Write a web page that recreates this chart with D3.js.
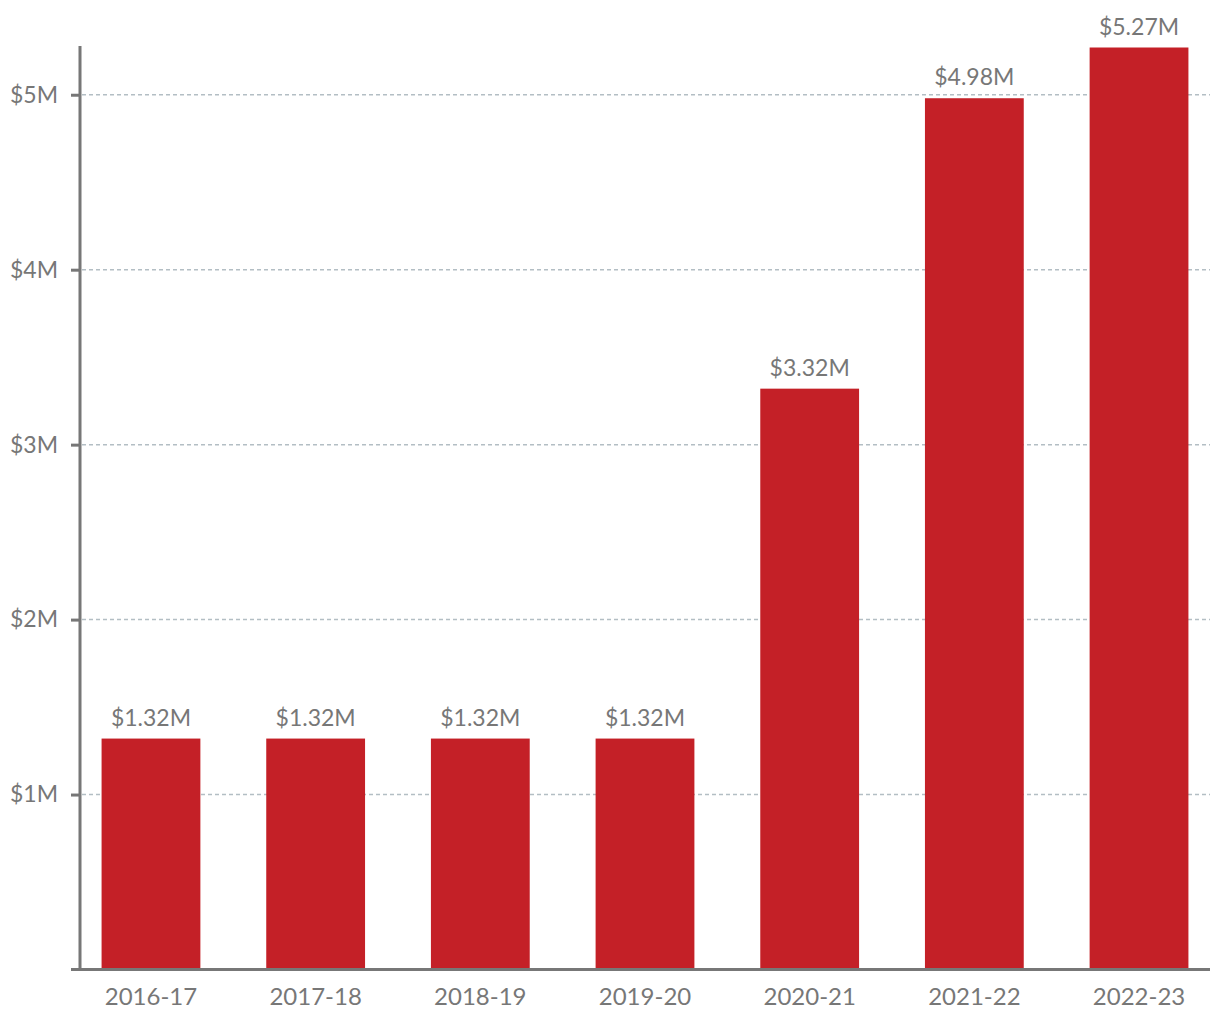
<!DOCTYPE html>
<html>
<head>
<meta charset="utf-8">
<script src="https://cdn.jsdelivr.net/npm/d3@7"></script>
<style>
  html, body { margin: 0; padding: 0; background: #fff; }
  text { font-family: Lato, "Noto Sans", sans-serif; fill: #777; }
</style>
</head>
<body>
<svg id="chart" width="1220" height="1020"></svg>
<script>
const categories = ["2016-17", "2017-18", "2018-19", "2019-20", "2020-21", "2021-22", "2022-23"];
const values = [1.32, 1.32, 1.32, 1.32, 3.32, 4.98, 5.27];
const yTicks = [1, 2, 3, 4, 5];
const valueLabels = ["$1.32M", "$1.32M", "$1.32M", "$1.32M", "$3.32M", "$4.98M", "$5.27M"];

(function () {
const svg = d3.select("#chart");
const mLeft = 80, mRight = 1210, mTop = 47.5, mBottom = 969.5;

const x = d3.scaleBand().domain(categories).range([mLeft, mRight])
  .paddingInner(0.4).paddingOuter(0.131);
const y = d3.scaleLinear().domain([0, d3.max(values)]).range([mBottom, mTop]);

// gridlines
svg.append("g").selectAll("line").data(yTicks).join("line")
  .attr("x1", mLeft + 2).attr("x2", mRight)
  .attr("y1", d => y(d)).attr("y2", d => y(d))
  .attr("stroke", "#b3bec4").attr("stroke-width", 1.5)
  .attr("stroke-dasharray", "4,3");

// bars
svg.append("g").selectAll("rect").data(values).join("rect")
  .attr("x", (d, i) => x(categories[i]))
  .attr("width", x.bandwidth())
  .attr("y", d => y(d))
  .attr("height", d => mBottom - y(d))
  .attr("fill", "#c42027");

// value labels
svg.append("g").selectAll("text").data(values).join("text")
  .attr("x", (d, i) => x(categories[i]) + x.bandwidth() / 2)
  .attr("y", d => y(d) - 13)
  .attr("text-anchor", "middle")
  .attr("font-size", 23)
  .text((d, i) => valueLabels[i]);

// y axis
const yAxis = d3.axisLeft(y).tickValues(yTicks).tickFormat(d => "$" + d + "M")
  .tickSize(9).tickPadding(13);
const gy = svg.append("g").attr("transform", `translate(${mLeft},0)`).call(yAxis);
gy.select(".domain").remove();
gy.selectAll(".tick line").attr("stroke", "#777").attr("stroke-width", 3);
gy.selectAll(".tick text").attr("font-size", 23).attr("fill", "#777")
  .style("font-family", "Lato, 'Noto Sans', sans-serif");
svg.append("line").attr("x1", mLeft).attr("x2", mLeft).attr("y1", mTop - 1.5).attr("y2", mBottom)
  .attr("stroke", "#777").attr("stroke-width", 3);

// x axis
const xAxis = d3.axisBottom(x).tickSize(0).tickPadding(18);
const gx = svg.append("g").attr("transform", `translate(0,${mBottom})`).call(xAxis);
gx.select(".domain").remove();
gx.selectAll(".tick text").attr("font-size", 24).attr("fill", "#777")
  .style("font-family", "Lato, 'Noto Sans', sans-serif");
svg.append("line").attr("x1", mLeft - 9).attr("x2", mRight).attr("y1", mBottom).attr("y2", mBottom)
  .attr("stroke", "#777").attr("stroke-width", 3);
})();
</script>
</body>
</html>
